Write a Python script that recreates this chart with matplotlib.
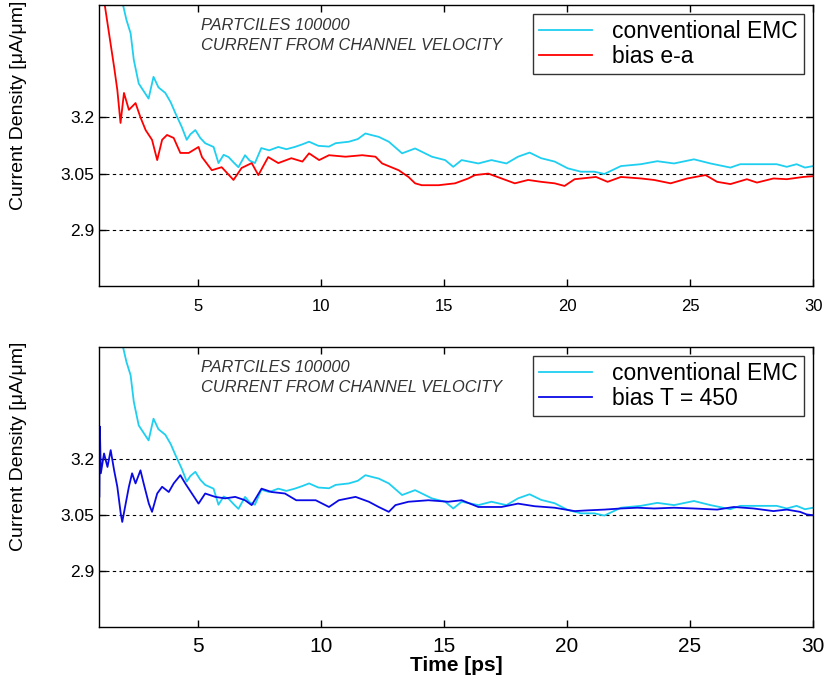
import matplotlib.pyplot as plt
import numpy as np

plt.rcParams['font.family'] = ['Liberation Sans', 'DejaVu Sans']

# conventional EMC (same run shown in both panels)
t_emc = [1.00, 1.50, 1.96, 2.10, 2.27, 2.40, 2.60, 2.80, 3.00, 3.20, 3.40, 3.68,
         3.90, 4.09, 4.35, 4.55, 4.70, 4.90, 5.10, 5.30, 5.64, 5.84, 6.05, 6.25,
         6.45, 6.65, 6.92, 7.10, 7.32, 7.58, 7.90, 8.27, 8.60, 8.94, 9.25, 9.52,
         9.90, 10.33, 10.60, 11.14, 11.50, 11.81, 12.10, 12.35, 12.76, 13.30,
         13.83, 14.51, 15.05, 15.38, 15.72, 16.40, 16.93, 17.54, 18.01, 18.48,
         18.95, 19.50, 20.03, 20.57, 21.11, 21.52, 22.19, 23.00, 23.67, 24.35,
         25.16, 25.83, 26.64, 27.04, 27.85, 28.52, 28.93, 29.33, 29.67, 30.00]
j_emc = [3.85, 3.65, 3.50, 3.46, 3.424, 3.353, 3.29, 3.27, 3.25, 3.308, 3.28, 3.265,
         3.24, 3.211, 3.174, 3.14, 3.155, 3.166, 3.145, 3.131, 3.121, 3.078, 3.10, 3.094,
         3.08, 3.067, 3.099, 3.085, 3.078, 3.118, 3.112, 3.121, 3.115, 3.121, 3.128, 3.135,
         3.124, 3.122, 3.131, 3.135, 3.142, 3.157, 3.152, 3.148, 3.135, 3.104,
         3.117, 3.095, 3.086, 3.068, 3.086, 3.077, 3.086, 3.077, 3.095, 3.106,
         3.091, 3.082, 3.064, 3.055, 3.055, 3.049, 3.070, 3.075, 3.083, 3.077,
         3.088, 3.077, 3.066, 3.075, 3.075, 3.075, 3.068, 3.075, 3.066, 3.070]

# bias e-a
t_ea = [1.00, 1.15, 1.23, 1.39, 1.60, 1.73, 1.86, 2.00, 2.20, 2.47, 2.67, 2.88,
        3.14, 3.35, 3.55, 3.75, 4.02, 4.29, 4.63, 5.03, 5.17, 5.57, 5.97, 6.45,
        6.78, 7.19, 7.46, 7.86, 8.27, 8.80, 9.25, 9.52, 9.93, 10.33, 11.00, 11.68,
        12.22, 12.49, 13.16, 13.56, 13.83, 14.10, 14.78, 15.45, 15.99, 16.26,
        16.80, 17.34, 17.88, 18.42, 18.95, 19.50, 19.90, 20.31, 21.18, 21.65,
        22.19, 23.00, 23.54, 24.21, 24.89, 25.63, 26.10, 26.64, 27.31, 27.72,
        28.39, 28.93, 29.60, 30.00]
j_ea = [3.62, 3.53, 3.495, 3.425, 3.334, 3.273, 3.185, 3.265, 3.22, 3.238, 3.20, 3.166,
        3.14, 3.086, 3.14, 3.153, 3.145, 3.105, 3.105, 3.121, 3.094, 3.059, 3.067, 3.033,
        3.065, 3.078, 3.046, 3.094, 3.078, 3.091, 3.082, 3.104, 3.086, 3.099, 3.095, 3.099,
        3.095, 3.077, 3.059, 3.041, 3.024, 3.019, 3.019, 3.024, 3.037, 3.046,
        3.050, 3.037, 3.024, 3.033, 3.028, 3.024, 3.017, 3.035, 3.041, 3.028,
        3.041, 3.037, 3.033, 3.024, 3.037, 3.046, 3.028, 3.022, 3.035, 3.026,
        3.037, 3.035, 3.041, 3.043]

# bias T = 450
t_t450 = [1.00, 1.02, 1.06, 1.19, 1.33, 1.46, 1.60, 1.73, 1.87, 1.93, 2.07, 2.20,
          2.33, 2.47, 2.67, 2.80, 3.01, 3.14, 3.35, 3.55, 3.82, 4.02, 4.29, 4.49,
          4.76, 5.03, 5.30, 5.71, 6.11, 6.52, 6.92, 7.19, 7.59, 8.00, 8.54, 9.00,
          9.79, 10.33, 10.73, 11.41, 11.95, 12.35, 12.76, 13.03, 13.56, 14.37,
          15.18, 15.72, 16.40, 17.34, 18.01, 18.69, 19.50, 20.31, 20.85, 21.52,
          22.19, 22.87, 23.54, 24.35, 25.16, 26.10, 26.78, 27.58, 28.39, 28.93,
          29.47, 29.74, 30.00]
j_t450 = [3.10, 3.287, 3.162, 3.215, 3.179, 3.224, 3.17, 3.126, 3.054, 3.032, 3.081, 3.126,
          3.162, 3.135, 3.17, 3.135, 3.081, 3.059, 3.108, 3.126, 3.112, 3.135, 3.157, 3.135,
          3.108, 3.081, 3.108, 3.099, 3.095, 3.099, 3.09, 3.077, 3.121, 3.112, 3.108, 3.09,
          3.09, 3.072, 3.09, 3.099, 3.086, 3.072, 3.059, 3.077, 3.086, 3.09,
          3.086, 3.09, 3.072, 3.072, 3.081, 3.074, 3.07, 3.061, 3.063, 3.065,
          3.068, 3.07, 3.068, 3.07, 3.068, 3.065, 3.072, 3.068, 3.061, 3.065,
          3.059, 3.052, 3.05]

yticks = [2.9, 3.05, 3.2]
ytick_labels = ['2.9', '3.05', '3.2']
xticks = [5, 10, 15, 20, 25, 30]

cyan = '#1ecff0'
red = '#ff0000'
blue = '#0a0ae6'

fig = plt.figure(figsize=(8.28, 6.91), dpi=100)
ax1 = fig.add_axes([0.120, 0.586, 0.862, 0.407])
ax2 = fig.add_axes([0.120, 0.092, 0.862, 0.406])

panels = [
    (ax1, j_ea, t_ea, red, 'bias e-a'),
    (ax2, j_t450, t_t450, blue, 'bias T = 450'),
]

for ax, jb, tb, col, lab in panels:
    ax.plot(t_emc, j_emc, color=cyan, lw=1.3, label='conventional EMC')
    ax.plot(tb, jb, color=col, lw=1.3, label=lab)
    ax.set_xlim(1, 30)
    ax.set_ylim(2.75, 3.5)
    ax.set_xticks(xticks)
    ax.set_yticks(yticks)
    ax.set_yticklabels(ytick_labels, fontsize=12.5)
    ax.grid(axis='y', color='black', linestyle=(0, (3, 3)), linewidth=0.8)
    ax.tick_params(direction='in', top=True, right=True, length=5, width=1)
    for s in ax.spines.values():
        s.set_linewidth(1.0)
    ax.set_ylabel('Current Density [μA/μm]', fontsize=14)
    ax.yaxis.set_label_coords(-0.101, 0.644)
    ax.text(0.142, 0.925, 'PARTCILES 100000', transform=ax.transAxes,
            fontsize=11.8, style='italic', color='#333333', va='center')
    ax.text(0.142, 0.855, 'CURRENT FROM CHANNEL VELOCITY', transform=ax.transAxes,
            fontsize=11.8, style='italic', color='#333333', va='center')
    leg = ax.legend(loc='upper right', fontsize=16.5, frameon=True, fancybox=False,
                    edgecolor='black', handlelength=2.3, borderaxespad=0.4,
                    labelspacing=0.1, handletextpad=0.9, borderpad=0.26)
    leg.get_frame().set_linewidth(1.0)

ax1.set_xticklabels([str(v) for v in xticks], fontsize=12)
ax1.tick_params(axis='x', pad=9)
ax2.set_xticklabels([str(v) for v in xticks], fontsize=15)
ax2.tick_params(axis='x', pad=7)
ax2.set_xlabel('Time [ps]', fontsize=15, fontweight='bold', labelpad=0)

plt.savefig('out.png', dpi=100)
